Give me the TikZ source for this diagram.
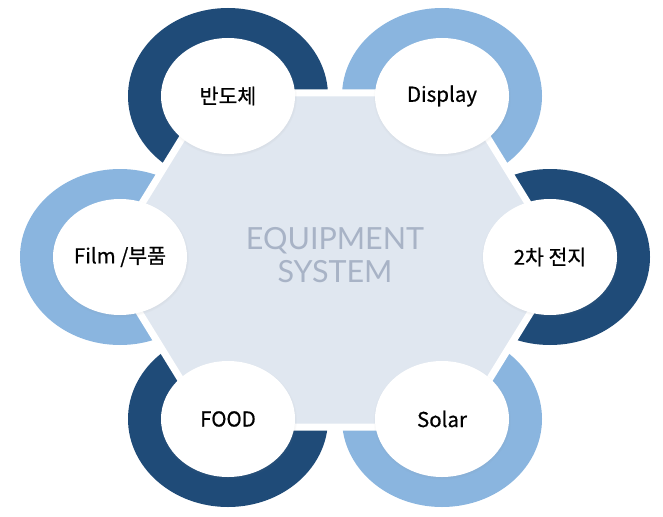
\documentclass[tikz,border=0pt]{standalone}
\usepackage{fontspec}
\setmainfont{Noto Sans CJK KR}
\newfontfamily\labelfont[FakeBold=0.6]{Noto Sans CJK KR}
\newfontfamily\eqfont{Lato}
\usetikzlibrary{shadows,shapes.geometric}
\definecolor{darkring}{HTML}{1F4B78}
\definecolor{lightring}{HTML}{8AB5DF}
\definecolor{hexfill}{HTML}{E0E7F0}
\definecolor{eqtext}{HTML}{A8B3C6}
\tikzset{
  ring/.style={x radius=100pt, y radius=88pt},
  bubble/.style={ellipse, fill=white, minimum width=134pt, minimum height=116pt, inner sep=0pt,
    font=\labelfont\fontsize{20.5}{24}\selectfont, circular drop shadow={shadow xshift=0pt, shadow yshift=-1pt, opacity=0.25, shadow scale=1.03}},
}
\begin{document}
\begin{tikzpicture}[x=1pt,y=-1pt]
\useasboundingbox (0,0) rectangle (663,516);
% rings
\fill[darkring] (228,96) ellipse [ring];
\fill[lightring] (442,96) ellipse [ring];
\fill[darkring] (550,257) ellipse [ring];
\fill[lightring] (442,419) ellipse [ring];
\fill[darkring] (228,419) ellipse [ring];
\fill[lightring] (120,257) ellipse [ring];
% hexagon
\draw[white, line width=7pt, fill=hexfill, line join=miter]
  (107,260) -- (210,93) -- (460,93) -- (563,260) -- (460,427) -- (210,427) -- cycle;
\node[text=eqtext, font=\eqfont\fontsize{30.5}{33}\selectfont, align=center] (eq) at (335,255) {EQUIPMENT\\SYSTEM};
% bubbles
\node[bubble] (semi) at (228,96) {반도체};
\node[bubble] (disp) at (442,96) {Display};
\node[bubble] (batt) at (550,257) {2차 전지};
\node[bubble] (solar) at (442,419) {Solar};
\node[bubble] (food) at (228,419) {FOOD};
\node[bubble] (film) at (120,257) {Film /부품};
\end{tikzpicture}
\end{document}
